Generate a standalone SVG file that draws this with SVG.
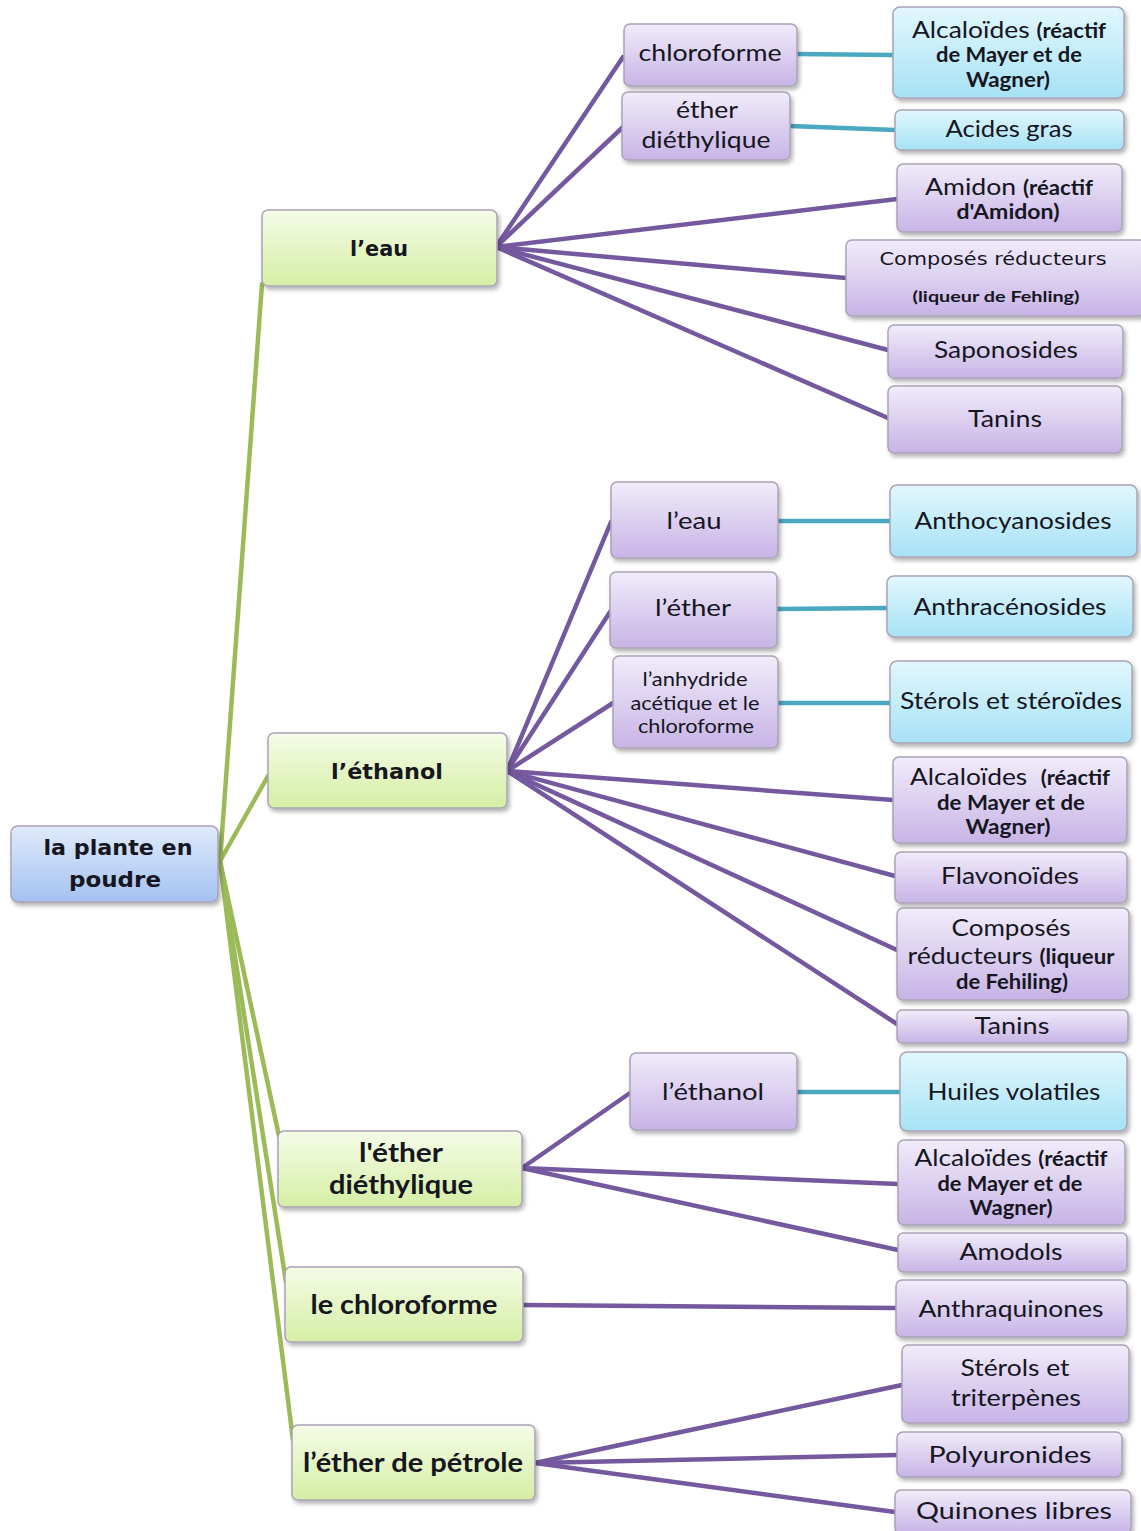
<svg xmlns="http://www.w3.org/2000/svg" width="1141" height="1531" viewBox="0 0 1141 1531">
<defs>
<linearGradient id="gGreen" x1="0" y1="0" x2="0" y2="1"><stop offset="0" stop-color="#f5fce8"/><stop offset="1" stop-color="#d5eea4"/></linearGradient>
<linearGradient id="gPurple" x1="0" y1="0" x2="0" y2="1"><stop offset="0" stop-color="#f1ecfa"/><stop offset="1" stop-color="#c7b4e6"/></linearGradient>
<linearGradient id="gCyan" x1="0" y1="0" x2="0" y2="1"><stop offset="0" stop-color="#e2f7fd"/><stop offset="1" stop-color="#a6e2f5"/></linearGradient>
<linearGradient id="gRoot" x1="0" y1="0" x2="0" y2="1"><stop offset="0" stop-color="#e0ebfb"/><stop offset="1" stop-color="#a3c1f1"/></linearGradient>
<filter id="sh" x="-10%" y="-20%" width="125%" height="150%"><feDropShadow dx="2" dy="3" stdDeviation="2" flood-color="#000" flood-opacity="0.3"/></filter>
</defs>
<style>
.n{stroke:#aaa3b6;stroke-width:1.5;filter:url(#sh)}
.green{fill:url(#gGreen)}
.purple{fill:url(#gPurple)}
.cyan{fill:url(#gCyan)}
.root{fill:url(#gRoot)}
.cg{stroke:#9bbb59;stroke-width:4.5;fill:none;stroke-linecap:round}
.cp{stroke:#75599f;stroke-width:4.5;fill:none;stroke-linecap:round}
.ct{stroke:#4aa8c0;stroke-width:4.5;fill:none}
text{fill:#16161f;text-anchor:middle}
.v{font-family:"DejaVu Sans",Verdana,sans-serif;font-weight:bold;font-size:22px}
.cb{font-family:Lato,"Liberation Sans",sans-serif;font-weight:bold;font-size:26px}
.c{font-family:Lato,"Open Sans",sans-serif;font-size:24px}
.b{font-weight:bold;font-size:20px}
.s{font-family:"DejaVu Sans",sans-serif;font-size:18px}
.sb{font-family:Lato,sans-serif;font-weight:bold;font-size:16px}
.m{font-family:Lato,"Open Sans",sans-serif;font-size:20px}
</style>

<g id="connectors">
<line class="cg" x1="220" y1="861" x2="262" y2="284"/>
<line class="cg" x1="220" y1="861" x2="268" y2="776"/>
<line class="cg" x1="220" y1="861" x2="279" y2="1136"/>
<line class="cg" x1="220" y1="861" x2="286" y2="1282"/>
<line class="cg" x1="220" y1="861" x2="293" y2="1440"/>

<line class="cp" x1="496" y1="247" x2="623" y2="57"/>
<line class="cp" x1="496" y1="247" x2="623" y2="127"/>
<line class="cp" x1="496" y1="247" x2="897" y2="199"/>
<line class="cp" x1="496" y1="247" x2="846" y2="278"/>
<line class="cp" x1="496" y1="247" x2="888" y2="350"/>
<line class="cp" x1="496" y1="247" x2="888" y2="418"/>

<line class="cp" x1="507" y1="771" x2="611" y2="522"/>
<line class="cp" x1="507" y1="771" x2="610" y2="612"/>
<line class="cp" x1="507" y1="771" x2="613" y2="703"/>
<line class="cp" x1="507" y1="771" x2="893" y2="800"/>
<line class="cp" x1="507" y1="771" x2="895" y2="876"/>
<line class="cp" x1="507" y1="771" x2="897" y2="950"/>
<line class="cp" x1="507" y1="771" x2="897" y2="1024"/>

<line class="cp" x1="522" y1="1168" x2="630" y2="1093"/>
<line class="cp" x1="522" y1="1168" x2="898" y2="1184"/>
<line class="cp" x1="522" y1="1168" x2="898" y2="1250"/>
<line class="cp" x1="523" y1="1305" x2="896" y2="1308"/>
<line class="cp" x1="535" y1="1463" x2="902" y2="1385"/>
<line class="cp" x1="535" y1="1463" x2="897" y2="1455"/>
<line class="cp" x1="535" y1="1463" x2="895" y2="1512"/>

<line class="ct" x1="797" y1="54" x2="893" y2="55"/>
<line class="ct" x1="790" y1="126" x2="895" y2="130"/>
<line class="ct" x1="778" y1="521" x2="890" y2="521"/>
<line class="ct" x1="777" y1="609" x2="887" y2="608"/>
<line class="ct" x1="778" y1="703" x2="890" y2="703"/>
<line class="ct" x1="797" y1="1092" x2="900" y2="1092"/>
</g>

<g id="root">
<rect class="n root" x="11" y="826" width="207" height="76" rx="7"/>
<text class="v" x="118" y="855" textLength="149" lengthAdjust="spacingAndGlyphs">la plante en</text>
<text class="v" x="115" y="887" textLength="92" lengthAdjust="spacingAndGlyphs">poudre</text>
</g>

<g id="n-eau">
<rect class="n green" x="262" y="210" width="235" height="76" rx="6"/>
<text class="v" x="379" y="256" textLength="58" lengthAdjust="spacingAndGlyphs">l’eau</text>
</g>
<g id="n-ethanol">
<rect class="n green" x="268" y="733" width="239" height="75" rx="6"/>
<text class="v" x="387" y="779" textLength="112" lengthAdjust="spacingAndGlyphs">l’éthanol</text>
</g>
<g id="n-ether-diethylique">
<rect class="n green" x="278" y="1131" width="244" height="76" rx="6"/>
<text class="cb" x="401" y="1162" textLength="84" lengthAdjust="spacingAndGlyphs">l'éther</text>
<text class="cb" x="401" y="1194" textLength="144" lengthAdjust="spacingAndGlyphs">diéthylique</text>
</g>
<g id="n-chloroforme">
<rect class="n green" x="285" y="1267" width="238" height="75" rx="6"/>
<text class="cb" x="404" y="1314" textLength="187" lengthAdjust="spacingAndGlyphs">le chloroforme</text>
</g>
<g id="n-ether-petrole">
<rect class="n green" x="292" y="1425" width="243" height="75" rx="6"/>
<text class="cb" x="413" y="1472" textLength="220" lengthAdjust="spacingAndGlyphs">l’éther de pétrole</text>
</g>

<g id="eau-chloroforme">
<rect class="n purple" x="624" y="24" width="173" height="62" rx="6"/>
<text class="c" x="710" y="61" textLength="143" lengthAdjust="spacingAndGlyphs">chloroforme</text>
</g>
<g id="eau-ether">
<rect class="n purple" x="622" y="92" width="168" height="68" rx="6"/>
<text class="c" x="707" y="118" textLength="62" lengthAdjust="spacingAndGlyphs">éther</text>
<text class="c" x="706" y="148" textLength="129" lengthAdjust="spacingAndGlyphs">diéthylique</text>
</g>
<g id="eau-alcaloides">
<rect class="n cyan" x="893" y="7" width="231" height="91" rx="7"/>
<text class="c" x="1009" y="38" textLength="194" lengthAdjust="spacingAndGlyphs">Alcaloïdes <tspan class="b">(réactif</tspan></text>
<text class="c b" x="1009" y="62" textLength="146" lengthAdjust="spacingAndGlyphs">de Mayer et de</text>
<text class="c b" x="1008" y="87" textLength="84" lengthAdjust="spacingAndGlyphs">Wagner)</text>
</g>
<g id="eau-acides">
<rect class="n cyan" x="895" y="110" width="229" height="40" rx="6"/>
<text class="c" x="1009" y="137" textLength="127" lengthAdjust="spacingAndGlyphs">Acides gras</text>
</g>
<g id="eau-amidon">
<rect class="n purple" x="897" y="164" width="225" height="68" rx="6"/>
<text class="c" x="1009" y="195" textLength="168" lengthAdjust="spacingAndGlyphs">Amidon <tspan class="b">(réactif</tspan></text>
<text class="c b" x="1008" y="219" textLength="103" lengthAdjust="spacingAndGlyphs">d'Amidon)</text>
</g>
<g id="eau-composes">
<rect class="n purple" x="846" y="240" width="300" height="76" rx="6"/>
<text class="s" x="993" y="265" textLength="227" lengthAdjust="spacingAndGlyphs">Composés réducteurs</text>
<text class="sb" x="996" y="302" textLength="167" lengthAdjust="spacingAndGlyphs">(liqueur de Fehling)</text>
</g>
<g id="eau-saponosides">
<rect class="n purple" x="888" y="325" width="235" height="53" rx="6"/>
<text class="c" x="1006" y="358" textLength="144" lengthAdjust="spacingAndGlyphs">Saponosides</text>
</g>
<g id="eau-tanins">
<rect class="n purple" x="888" y="386" width="234" height="67" rx="6"/>
<text class="c" x="1005" y="427" textLength="74" lengthAdjust="spacingAndGlyphs">Tanins</text>
</g>

<g id="eth-eau">
<rect class="n purple" x="611" y="482" width="167" height="76" rx="6"/>
<text class="c" x="694" y="529" textLength="55" lengthAdjust="spacingAndGlyphs">l’eau</text>
</g>
<g id="eth-ether">
<rect class="n purple" x="610" y="572" width="167" height="76" rx="6"/>
<text class="c" x="693" y="616" textLength="76" lengthAdjust="spacingAndGlyphs">l’éther</text>
</g>
<g id="eth-anhydride">
<rect class="n purple" x="613" y="656" width="165" height="92" rx="6"/>
<text class="m" x="695" y="686" textLength="105" lengthAdjust="spacingAndGlyphs">l’anhydride</text>
<text class="m" x="695" y="710" textLength="129" lengthAdjust="spacingAndGlyphs">acétique et le</text>
<text class="m" x="696" y="733" textLength="116" lengthAdjust="spacingAndGlyphs">chloroforme</text>
</g>
<g id="eth-anthocyanosides">
<rect class="n cyan" x="890" y="485" width="247" height="72" rx="7"/>
<text class="c" x="1013" y="529" textLength="197" lengthAdjust="spacingAndGlyphs">Anthocyanosides</text>
</g>
<g id="eth-anthracenosides">
<rect class="n cyan" x="887" y="576" width="246" height="61" rx="7"/>
<text class="c" x="1010" y="615" textLength="193" lengthAdjust="spacingAndGlyphs">Anthracénosides</text>
</g>
<g id="eth-sterols">
<rect class="n cyan" x="890" y="661" width="242" height="82" rx="7"/>
<text class="c" x="1011" y="709" textLength="222" lengthAdjust="spacingAndGlyphs">Stérols et stéroïdes</text>
</g>
<g id="eth-alcaloides">
<rect class="n purple" x="893" y="757" width="234" height="86" rx="6"/>
<text class="c" x="1010" y="785" textLength="200" lengthAdjust="spacingAndGlyphs" xml:space="preserve">Alcaloïdes  <tspan class="b">(réactif</tspan></text>
<text class="c b" x="1011" y="810" textLength="148" lengthAdjust="spacingAndGlyphs">de Mayer et de</text>
<text class="c b" x="1008" y="834" textLength="85" lengthAdjust="spacingAndGlyphs">Wagner)</text>
</g>
<g id="eth-flavonoides">
<rect class="n purple" x="895" y="852" width="232" height="51" rx="6"/>
<text class="c" x="1010" y="884" textLength="138" lengthAdjust="spacingAndGlyphs">Flavonoïdes</text>
</g>
<g id="eth-composes">
<rect class="n purple" x="897" y="908" width="232" height="92" rx="6"/>
<text class="c" x="1011" y="936" textLength="119" lengthAdjust="spacingAndGlyphs">Composés</text>
<text class="c" x="1011" y="964" textLength="207" lengthAdjust="spacingAndGlyphs">réducteurs <tspan class="b">(liqueur</tspan></text>
<text class="c b" x="1012" y="989" textLength="112" lengthAdjust="spacingAndGlyphs">de Fehiling)</text>
</g>
<g id="eth-tanins">
<rect class="n purple" x="897" y="1010" width="231" height="33" rx="5"/>
<text class="c" x="1012" y="1034" textLength="75" lengthAdjust="spacingAndGlyphs">Tanins</text>
</g>

<g id="ed-ethanol">
<rect class="n purple" x="630" y="1053" width="167" height="77" rx="6"/>
<text class="c" x="713" y="1100" textLength="102" lengthAdjust="spacingAndGlyphs">l’éthanol</text>
</g>
<g id="ed-huiles">
<rect class="n cyan" x="900" y="1052" width="227" height="79" rx="7"/>
<text class="c" x="1014" y="1100" textLength="173" lengthAdjust="spacingAndGlyphs">Huiles volatiles</text>
</g>
<g id="ed-alcaloides">
<rect class="n purple" x="898" y="1140" width="227" height="85" rx="6"/>
<text class="c" x="1011" y="1166" textLength="193" lengthAdjust="spacingAndGlyphs">Alcaloïdes <tspan class="b">(réactif</tspan></text>
<text class="c b" x="1010" y="1191" textLength="145" lengthAdjust="spacingAndGlyphs">de Mayer et de</text>
<text class="c b" x="1011" y="1215" textLength="83" lengthAdjust="spacingAndGlyphs">Wagner)</text>
</g>
<g id="ed-amodols">
<rect class="n purple" x="898" y="1233" width="229" height="39" rx="5"/>
<text class="c" x="1011" y="1260" textLength="103" lengthAdjust="spacingAndGlyphs">Amodols</text>
</g>

<g id="ch-anthraquinones">
<rect class="n purple" x="896" y="1280" width="231" height="57" rx="6"/>
<text class="c" x="1011" y="1317" textLength="185" lengthAdjust="spacingAndGlyphs">Anthraquinones</text>
</g>

<g id="ep-sterols">
<rect class="n purple" x="902" y="1345" width="227" height="78" rx="6"/>
<text class="c" x="1015" y="1376" textLength="109" lengthAdjust="spacingAndGlyphs">Stérols et</text>
<text class="c" x="1016" y="1406" textLength="130" lengthAdjust="spacingAndGlyphs">triterpènes</text>
</g>
<g id="ep-polyuronides">
<rect class="n purple" x="897" y="1432" width="225" height="45" rx="6"/>
<text class="c" x="1010" y="1463" textLength="163" lengthAdjust="spacingAndGlyphs">Polyuronides</text>
</g>
<g id="ep-quinones">
<rect class="n purple" x="895" y="1490" width="236" height="44" rx="6"/>
<text class="c" x="1014" y="1519" textLength="196" lengthAdjust="spacingAndGlyphs">Quinones libres</text>
</g>
</svg>
